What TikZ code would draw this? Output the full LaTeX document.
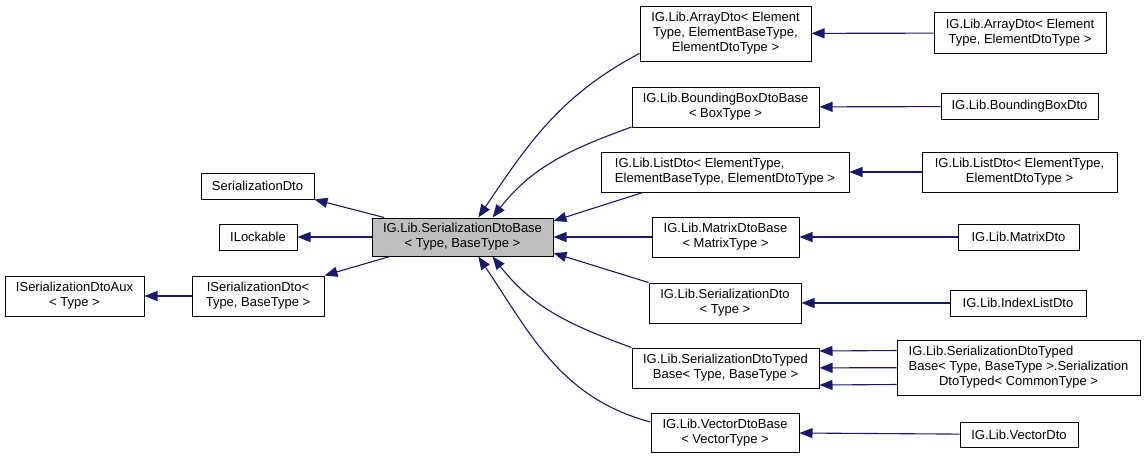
\documentclass[tikz,border=0pt]{standalone}
\usepackage{fontspec}
\setmainfont{Liberation Sans}
\usetikzlibrary{arrows.meta}
\definecolor{dblue}{HTML}{191970}
\definecolor{basegray}{HTML}{BFBFBF}
% first line flush left inside a centred label
\newcommand{\lfirst}[2]{\rlap{#1}\phantom{#2}}

\begin{document}
\begin{tikzpicture}[x=1pt, y=-1pt, >={Triangle[length=13pt,width=10pt]},
  cls/.style={draw, fill=white, align=center, inner sep=0pt, line width=1pt, font=\fontsize{13}{15}\selectfont},
  inh/.style={->, draw=dblue, line width=1.1pt}]
  \path[use as bounding box, fill=white] (0,0) rectangle (1148,459);
  % base class and its parents
  \node[cls, fill=basegray, minimum width=181pt, minimum height=38pt] (base) at (462.5,237) {IG.Lib.SerializationDtoBase\\< Type, BaseType >};
  \node[cls, minimum width=113pt, minimum height=26pt] (sdl) at (257.5,186) {SerializationDto};
  \node[cls, minimum width=78pt, minimum height=26pt] (ilk) at (258,237) {ILockable};
  \node[cls, minimum width=132pt, minimum height=40pt] (isd) at (258,296) {ISerializationDto<\\Type, BaseType >};
  \node[cls, minimum width=139pt, minimum height=40pt] (aux) at (74.5,296) {ISerializationDtoAux\\< Type >};
  % middle column
  \node[cls, minimum width=171pt, minimum height=55pt] (arr) at (725.5,33.5) {IG.Lib.ArrayDto< Element\\Type, ElementBaseType,\\ElementDtoType >};
  \node[cls, minimum width=187pt, minimum height=40pt] (bbb) at (725.5,107) {IG.Lib.BoundingBoxDtoBase\\< BoxType >};
  \node[cls, minimum width=248pt, minimum height=40pt] (lst) at (725,172) {\lfirst{IG.Lib.ListDto< ElementType,}{ElementBaseType, ElementDtoType >}\\ElementBaseType, ElementDtoType >};
  \node[cls, minimum width=147pt, minimum height=40pt] (mtb) at (725.5,237) {IG.Lib.MatrixDtoBase\\< MatrixType >};
  \node[cls, minimum width=152pt, minimum height=40pt] (sdt) at (725,303) {IG.Lib.SerializationDto\\< Type >};
  \node[cls, minimum width=187pt, minimum height=40pt] (stb) at (725.5,368) {IG.Lib.SerializationDtoTyped\\Base< Type, BaseType >};
  \node[cls, minimum width=148pt, minimum height=39pt] (vdb) at (725,432.5) {IG.Lib.VectorDtoBase\\< VectorType >};
  % right column
  \node[cls, minimum width=172pt, minimum height=41pt] (arr2) at (1020,33) {IG.Lib.ArrayDto< Element\\Type, ElementDtoType >};
  \node[cls, minimum width=157pt, minimum height=26pt] (bbd) at (1019.5,106.5) {IG.Lib.BoundingBoxDto};
  \node[cls, minimum width=195pt, minimum height=40pt] (lst2) at (1019.5,172) {IG.Lib.ListDto< ElementType,\\ElementDtoType >};
  \node[cls, minimum width=121pt, minimum height=26pt] (mtd) at (1018.5,237) {IG.Lib.MatrixDto};
  \node[cls, minimum width=136pt, minimum height=26pt] (ild) at (1018,303) {IG.Lib.IndexListDto};
  \node[cls, minimum width=243pt, minimum height=55pt] (tyd) at (1018.5,367.5) {\lfirst{IG.Lib.SerializationDtoTyped}{Base< Type, BaseType >.Serialization}\\Base< Type, BaseType >.Serialization\\DtoTyped< CommonType >};
  \node[cls, minimum width=118pt, minimum height=25pt] (vcd) at (1019,434.5) {IG.Lib.VectorDto};
  % inheritance edges
  \draw[inh] (base.166) -- (sdl.south east);
  \draw[inh] (base) -- (ilk);
  \draw[inh] (base.195) -- (isd.north east);
  \draw[inh] (isd) -- (aux);
  \draw[inh] (arr.193) to[out=208, in=56] (base.51);
  \draw[inh] (bbb.192) to[out=200, in=52] (base.33);
  \draw[inh] (lst.194) -- (base.10);
  \draw[inh] (mtb) -- (base);
  \draw[inh] (sdt.north west) -- (base.-10);
  \draw[inh] (stb.north west) to[out=160, in=-52] (base.-33);
  \draw[inh] (vdb.172) to[out=165, in=-56] (base.-51);
  \draw[inh] (arr2) -- (arr);
  \draw[inh] (bbd) -- (bbb);
  \draw[inh] (lst2) -- (lst);
  \draw[inh] (mtd) -- (mtb);
  \draw[inh] (ild) -- (sdt);
  \draw[inh] ([yshift=17pt]tyd.west) -- ([yshift=17pt]stb.east);
  \draw[inh] (tyd) -- (stb);
  \draw[inh] ([yshift=-17pt]tyd.west) -- ([yshift=-17pt]stb.east);
  \draw[inh] (vcd) -- (vdb);
\end{tikzpicture}
\end{document}
